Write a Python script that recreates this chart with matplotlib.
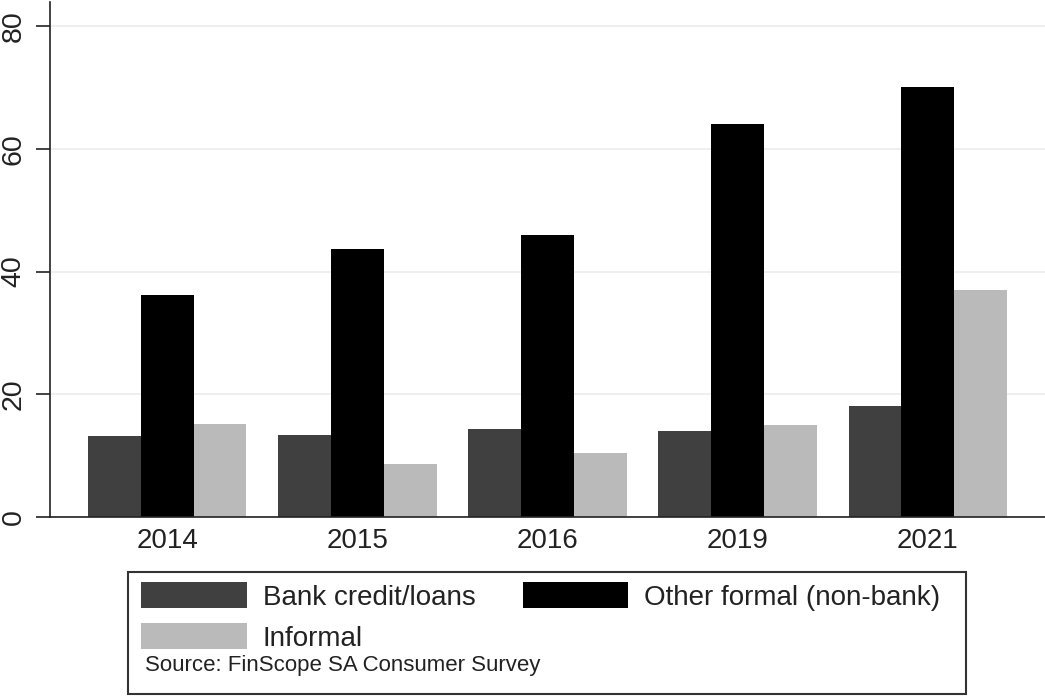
import matplotlib
matplotlib.use("AGG")
import matplotlib.pyplot as plt
import numpy as np
from matplotlib.patches import Rectangle

years = ["2014", "2015", "2016", "2019", "2021"]
bank = [13.2, 13.4, 14.3, 14.0, 18.1]
other_formal = [36.2, 43.6, 45.9, 64.0, 70.0]
informal = [15.1, 8.6, 10.4, 15.0, 37.0]

series = [
    ("Bank credit/loans", bank, "#404040"),
    ("Other formal (non-bank)", other_formal, "#000000"),
    ("Informal", informal, "#bababa"),
]

plt.rcParams["font.family"] = ["Liberation Sans", "DejaVu Sans"]

W, H = 1045, 697
fig = plt.figure(figsize=(W / 100, H / 100), dpi=100)
ax = fig.add_axes([50 / W, 1 - 517 / H, 995 / W, 515 / H])

x = np.arange(len(years))
width = 0.278
handles = {}
for i, (name, vals, color) in enumerate(series):
    handles[name] = ax.bar(x + (i - 1) * width, vals, width, color=color,
                           label=name, zorder=2, linewidth=0)

ax.set_xlim(-0.616, len(years) - 1 + 0.616)
ax.set_ylim(0, 80 * 515 / 491)
ax.set_yticks([0, 20, 40, 60, 80])
ax.set_xticks(x)
ax.set_xticklabels(years)
ax.tick_params(axis="x", length=0, labelsize=20, pad=8, colors="#222222")
ax.tick_params(axis="y", length=10, width=1.2, labelsize=20.5, pad=7,
               colors="#222222")
for lab in ax.get_yticklabels():
    lab.set_rotation(90)
    lab.set_va("center")
ax.yaxis.grid(True, color="#ececec", linewidth=1.2, zorder=0)
ax.set_axisbelow(True)
for s in ["top", "right"]:
    ax.spines[s].set_visible(False)
for s in ["left", "bottom"]:
    ax.spines[s].set_linewidth(1.2)
    ax.spines[s].set_color("#222222")

# legend box with source note
fig.patches.append(Rectangle((128 / W, 1 - 694 / H), (966 - 128) / W,
                             (694 - 572) / H, transform=fig.transFigure,
                             fill=False, edgecolor="#333333", linewidth=1.5))
order = ["Bank credit/loans", "Informal", "Other formal (non-bank)"]
fig.legend([handles[n] for n in order], order, ncol=2, frameon=False,
           loc="upper left", bbox_to_anchor=(141 / W, 1 - 582 / H),
           borderpad=0, borderaxespad=0, fontsize=20,
           handlelength=3.8, handleheight=1.08, handletextpad=0.58,
           columnspacing=1.7, labelspacing=0.45, labelcolor="#222222")
fig.text(145 / W, 1 - 665 / H, "Source: FinScope SA Consumer Survey",
         fontsize=16, va="center", ha="left", color="#222222")

fig.savefig("out.png", dpi=100)
